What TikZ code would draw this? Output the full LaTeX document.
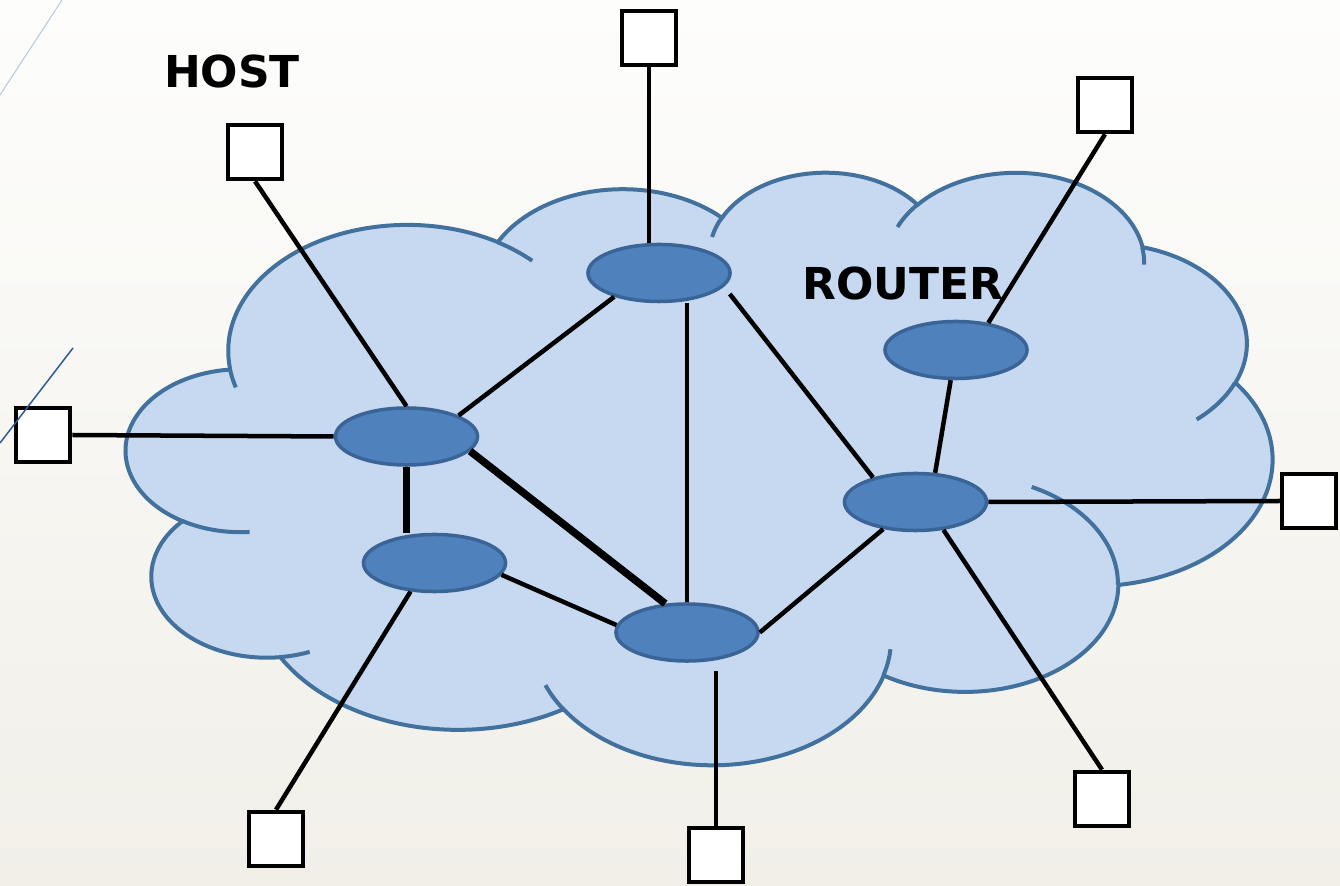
\documentclass[tikz,border=0pt]{standalone}
\usepackage{fontspec}
\setsansfont{DejaVu Sans}
\usepackage{tikz}
\usetikzlibrary{shapes.geometric}
\definecolor{cloudfill}{HTML}{C6D9F0}
\definecolor{cloudedge}{HTML}{41719C}
\definecolor{routerfill}{HTML}{4F81BD}
\definecolor{routeredge}{HTML}{3A6496}
\definecolor{bgtop}{HTML}{FDFDFC}
\definecolor{bgbottom}{HTML}{F1EFE8}
\definecolor{paleline}{HTML}{B8C7DC}
\definecolor{darkline}{HTML}{2E5C99}
\tikzset{
	puff/.style={draw=cloudedge, line width=0.04cm},
	router/.style={ellipse, draw=routeredge, fill=routerfill, line width=0.035cm, minimum width=1.42cm, minimum height=0.57cm, inner sep=0},
	host/.style={rectangle, draw=black, fill=white, line width=0.045cm, minimum size=0.54cm, inner sep=0},
	link/.style={draw=black, line width=0.045cm},
	trunk/.style={draw=black, line width=0.075cm},
	netlabel/.style={font=\sffamily\bfseries\fontsize{12.5}{15}\selectfont, inner sep=0}
}

\begin{document}
\begin{tikzpicture}[x=0.01cm, y=-0.01cm]
	\useasboundingbox (0,0) rectangle (1340,886);
	\shade[top color=bgtop, bottom color=bgbottom] (0,0) rectangle (1340,886);
	\draw[paleline, line width=0.01cm] (0,95) -- (62,0);

	% cloud
	\draw[puff, fill=cloudfill] (229.9,367.9)
		arc[start angle=187.75, end angle=59.65, x radius=1.7898cm, y radius=1.2594cm]
		arc[start angle=152.06, end angle=45.45, x radius=1.4135cm, y radius=0.9959cm]
		arc[start angle=153.49, end angle=37.34, x radius=1.1569cm, y radius=0.8147cm]
		arc[start angle=139.71, end angle=10.21, x radius=1.2873cm, y radius=0.9038cm]
		arc[start angle=74.77, end angle=-23.21, x radius=1.4135cm, y radius=0.9967cm]
		arc[start angle=37.52, end angle=-81.86, x radius=1.7957cm, y radius=1.2635cm]
		arc[start angle=-0.46, end angle=-121.98, x radius=1.5333cm, y radius=1.0781cm]
		arc[start angle=-16.84, end angle=-146.22, x radius=1.7896cm, y radius=1.2628cm]
		arc[start angle=-58.98, end angle=-150.19, x radius=2.0462cm, y radius=1.4448cm]
		arc[start angle=276.69, end angle=136.89, x radius=1.1556cm, y radius=0.8110cm]
		arc[start angle=-120.36, end angle=-264.11, x radius=1.1516cm, y radius=0.8147cm]
		-- cycle;

	\coordinate (c1) at (407.2,351.0);
	\coordinate (c3) at (825.2,254.3);
	\coordinate (c4) at (1015.4,263.35);
	\coordinate (c5) at (1105.0,343.5);
	\coordinate (c7) at (964.5,583.9);
	\coordinate (c8) at (712.0,638.8);
	\coordinate (c10) at (266.8,576.5);
	\coordinate (c11) at (240.7,450.7);

	\draw[puff] (c11) ++(-85.55:1.1516cm and 0.8147cm) arc[start angle=-85.55, end angle=-120.36, x radius=1.1516cm, y radius=0.8147cm];
	\draw[puff] (c10) ++(-68.23:1.1556cm and 0.8110cm) arc[start angle=-68.23, end angle=-83.31, x radius=1.1556cm, y radius=0.8110cm];
	\draw[puff] (c8) ++(-146.22:1.7896cm and 1.2628cm) arc[start angle=-146.22, end angle=-158.46, x radius=1.7896cm, y radius=1.2628cm];
	\draw[puff] (c8) ++(-4.74:1.7896cm and 1.2628cm) arc[start angle=-4.74, end angle=-16.84, x radius=1.7896cm, y radius=1.2628cm];
	\draw[puff] (c7) ++(64.03:1.5333cm and 1.0781cm) arc[start angle=64.03, end angle=-0.46, x radius=1.5333cm, y radius=1.0781cm];
	\draw[puff] (c5) ++(-23.21:1.4135cm and 0.9967cm) arc[start angle=-23.21, end angle=-49.64, x radius=1.4135cm, y radius=0.9967cm];
	\draw[puff] (c4) ++(10.21:1.2873cm and 0.9038cm) arc[start angle=10.21, end angle=-0.75, x radius=1.2873cm, y radius=0.9038cm];
	\draw[puff] (c4) ++(156.29:1.2873cm and 0.9038cm) arc[start angle=156.29, end angle=139.71, x radius=1.2873cm, y radius=0.9038cm];
	\draw[puff] (c3) ++(167.73:1.1569cm and 0.8147cm) arc[start angle=167.73, end angle=153.49, x radius=1.1569cm, y radius=0.8147cm];
	\draw[puff] (c1) ++(59.65:1.7898cm and 1.2594cm) arc[start angle=59.65, end angle=45.74, x radius=1.7898cm, y radius=1.2594cm];
	\draw[puff] (c1) ++(-163.20:1.7898cm and 1.2594cm) arc[start angle=-163.20, end angle=-172.26, x radius=1.7898cm, y radius=1.2594cm];

	% routers
	\node[router] (r1) at (659,273) {};
	\node[router] (r2) at (406.5,436.5) {};
	\node[router] (r3) at (434.5,563) {};
	\node[router] (r4) at (687,632.5) {};
	\node[router] (r5) at (915.5,502) {};
	\node[router] (r6) at (956,350) {};

	% hosts
	\node[host] (h1) at (649,38) {};
	\node[host] (h2) at (255,152) {};
	\node[host] (h3) at (43,435) {};
	\node[host] (h4) at (1105,105) {};
	\node[host] (h5) at (1309,501) {};
	\node[host] (h6) at (1102,799) {};
	\node[host] (h7) at (716,855) {};
	\node[host] (h8) at (276,839) {};

	\node[netlabel] (hostlabel) at (232,72) {HOST};
	\node[netlabel] (routerlabel) at (903,284) {ROUTER};

	% links
	\draw[link] (h1.south) -- (h1.south |- r1.north);
	\draw[link] (h2.south) -- (r2.north);
	\draw[link] (h3.east) -- (r2.west);
	\draw[link] (h4.south) -- (r6.40);
	\draw[link] (h5.west) -- (r5.east);
	\draw[link] (h6.north) -- (r5.-45);
	\draw[link] (h7.north) -- ([yshift=-0.08cm]h7.north |- r4.south);
	\draw[link] (h8.north) -- (r3.-130);

	\draw[link] (r1.-152) -- (r2.22);
	\draw[link] (r1.south -| r4.north) -- (r4.north);
	\draw[link] ([shift={(-2,21)}]r1.east) -- (r5.150);
	\draw[link] (r3.-10) -- (r4.174);
	\draw[link] (r4.east) -- (r5.-140);
	\draw[link] (r6.-100) -- (r5.56);
	\draw[trunk] (r2.south) -- (r2.south |- r3.north);
	\draw[trunk] (r2.-13) -- (r4.127);

	\draw[darkline, line width=0.015cm] (0,443) -- (73,348);
\end{tikzpicture}
\end{document}
